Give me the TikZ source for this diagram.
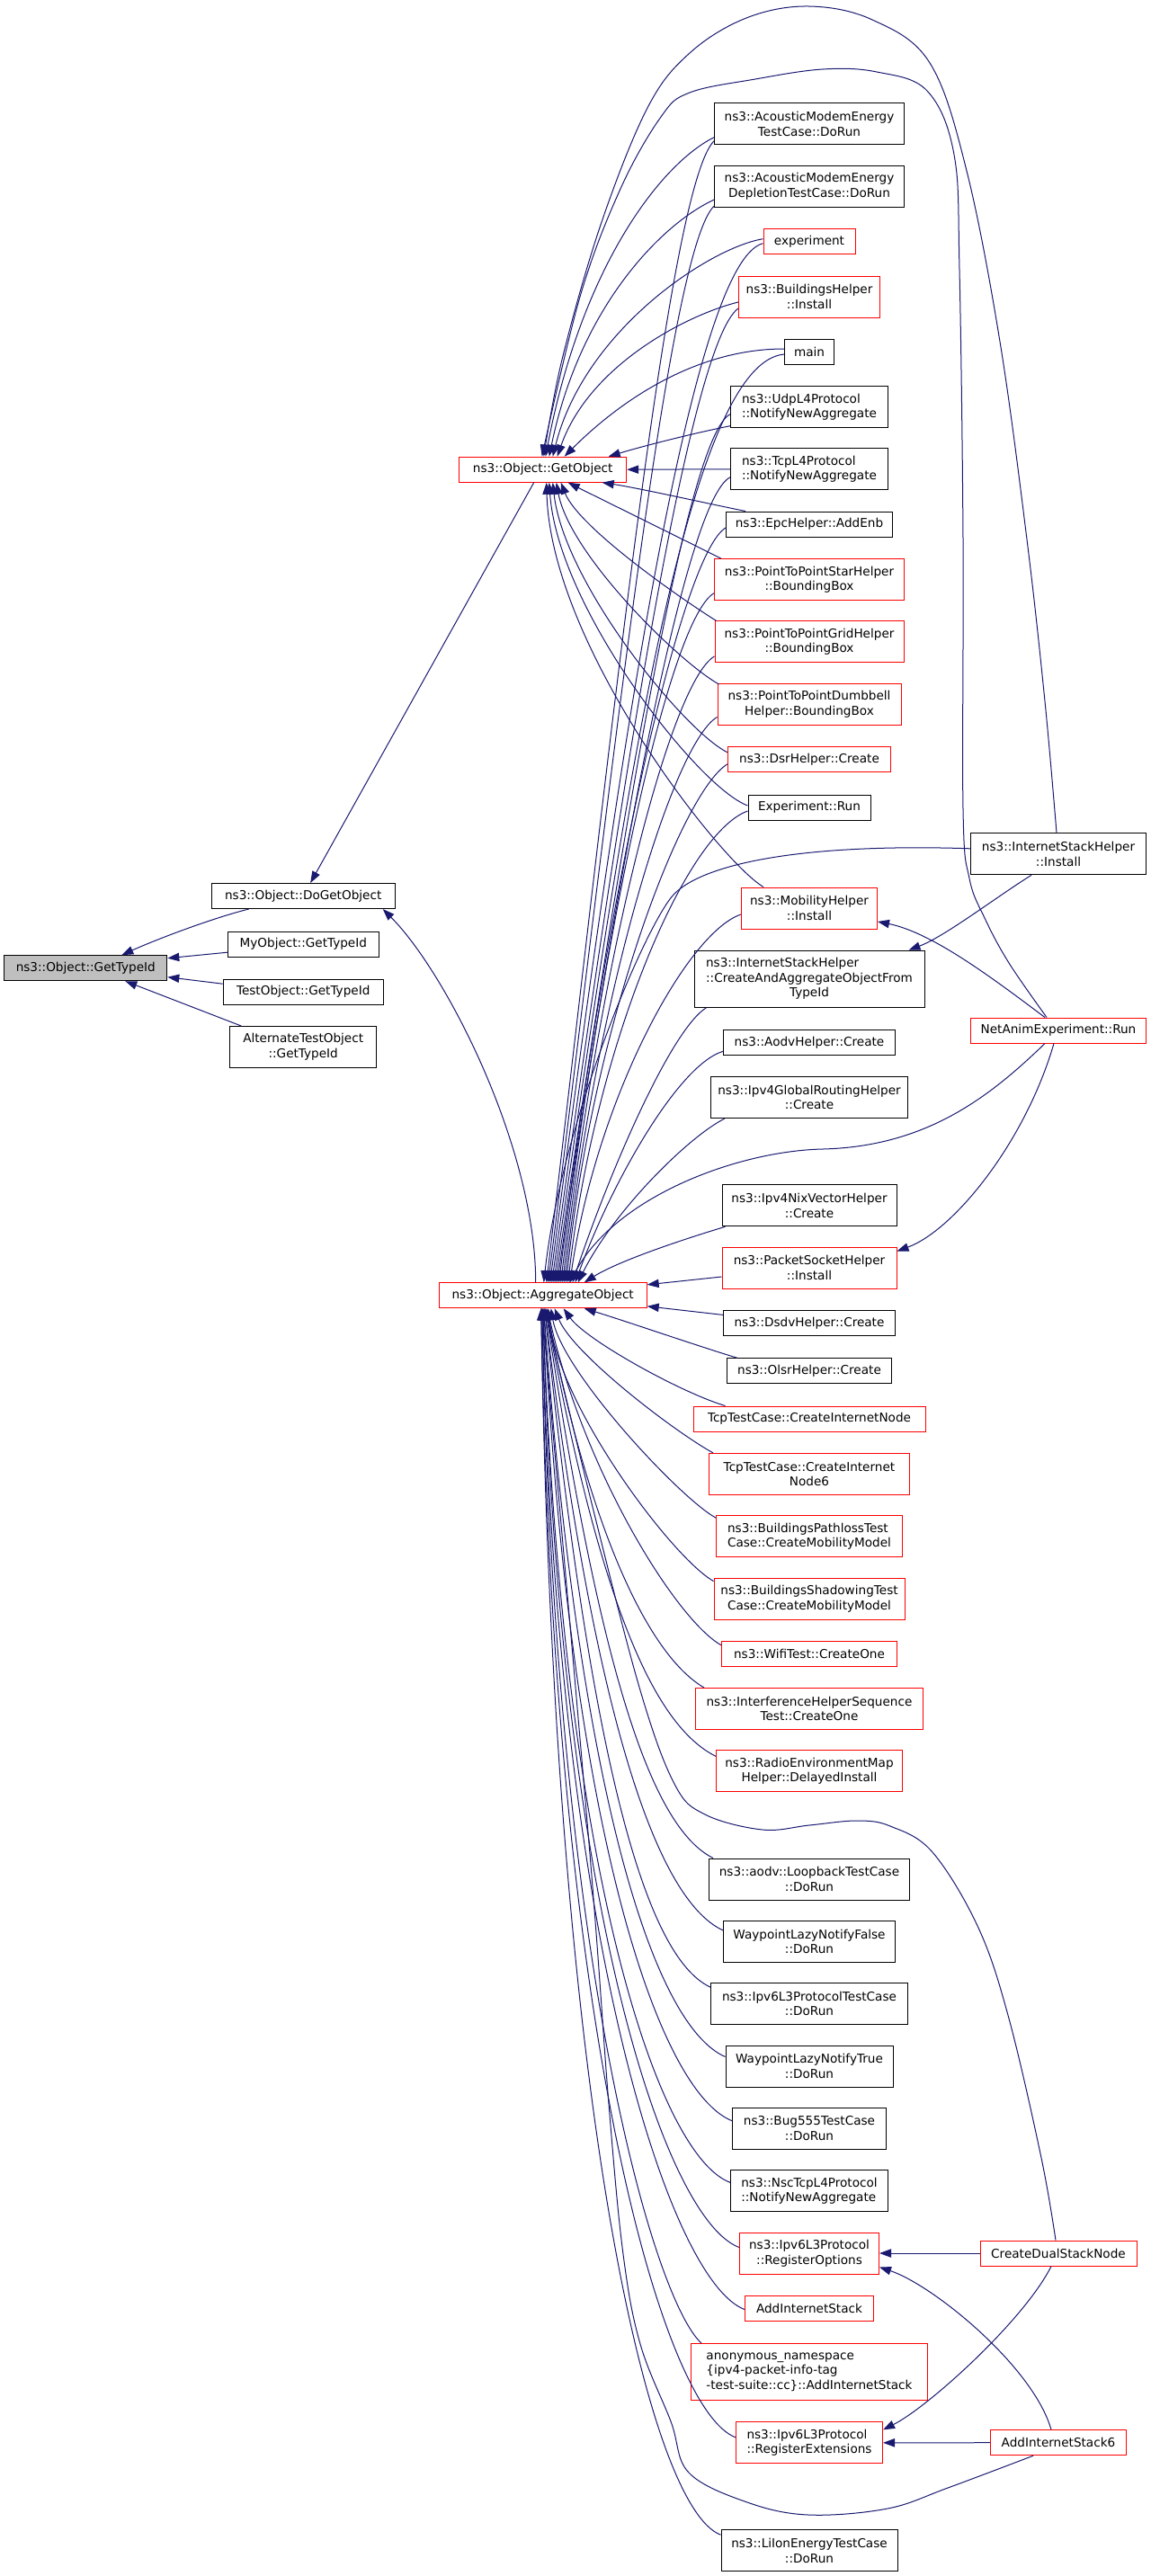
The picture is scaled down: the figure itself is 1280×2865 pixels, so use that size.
\documentclass[tikz,border=0pt]{standalone}
\usepackage{fontspec}
\newfontfamily\dvs{DejaVu Sans}
\usetikzlibrary{arrows.meta,calc}
\definecolor{edgec}{HTML}{191970}
\definecolor{hlgray}{HTML}{BFBFBF}
\begin{document}
\begin{tikzpicture}[x=0.75pt,y=-0.75pt,
 box/.style={draw=black,line width=0.75pt,inner sep=0pt,align=center,fill=white,font={\dvs\fontsize{10.2}{12.4}\selectfont}},
 rbox/.style={box,draw=red},
 bw/.style={minimum width=#1*0.75pt},
 h1/.style={minimum height=21pt},
 h2/.style={minimum height=34.5pt},
 h3/.style={minimum height=47.25pt},
 call/.style={draw=edgec,line width=0.75pt,-{Triangle[length=9.75pt,width=7pt]}}]
\useasboundingbox (0,0) rectangle (1280,2865);

% ---------- nodes ----------
\node[box,bw=181,h1,fill=hlgray] (gti) at (95.3,1076.7) {ns3::Object::GetTypeId};
\node[box,bw=204,h1] (dgo) at (337.2,996.5) {ns3::Object::DoGetObject};
\node[box,bw=168,h1] (myo) at (337.3,1050.2) {MyObject::GetTypeId};
\node[box,bw=178,h1] (tso) at (337.2,1103.2) {TestObject::GetTypeId};
\node[box,bw=163,h2] (ato) at (337.2,1164.5) {AlternateTestObject\\::GetTypeId};
\node[rbox,bw=186,h1] (go) at (603.7,522.2) {ns3::Object::GetObject};
\node[rbox,bw=231,h1] (ao) at (603.7,1440.8) {ns3::Object::AggregateObject};

\node[box,bw=211,h2] (amt) at (900,137.8) {ns3::AcousticModemEnergy\\TestCase::DoRun};
\node[box,bw=211,h2] (amd) at (900,207.2) {ns3::AcousticModemEnergy\\DepletionTestCase::DoRun};
\node[rbox,bw=102,h1] (exp) at (900,268.7) {experiment};
\node[rbox,bw=157,h2] (bhi) at (900,330) {ns3::BuildingsHelper\\::Install};
\node[box,bw=55,h1] (main) at (900,391) {main};
\node[box,bw=175,h2,align=left] (udp) at (900,452.7) {ns3::UdpL4Protocol\\::NotifyNewAggregate};
\node[box,bw=175,h2,align=left] (tcp) at (900,521.8) {ns3::TcpL4Protocol\\::NotifyNewAggregate};
\node[box,bw=185,h1] (epc) at (900,583) {ns3::EpcHelper::AddEnb};
\node[rbox,bw=211,h2] (p2ps) at (900,644.7) {ns3::PointToPointStarHelper\\::BoundingBox};
\node[rbox,bw=210,h2] (p2pg) at (900,713.9) {ns3::PointToPointGridHelper\\::BoundingBox};
\node[rbox,bw=204,h2] (p2pd) at (900,783.5) {ns3::PointToPointDumbbell\\Helper::BoundingBox};
\node[rbox,bw=181,h1] (dsr) at (900,844.8) {ns3::DsrHelper::Create};
\node[box,bw=136,h1] (exr) at (900,898) {Experiment::Run};
\node[rbox,bw=151,h2] (mhi) at (900,1010) {ns3::MobilityHelper\\::Install};
\node[box,bw=256,h3] (caot) at (900,1088.7) {\begin{tabular}{@{}l@{}}ns3::InternetStackHelper\\::CreateAndAggregateObjectFrom\\\multicolumn{1}{@{}c@{}}{TypeId}\end{tabular}};
\node[box,bw=191,h1] (aodvh) at (900,1159.3) {ns3::AodvHelper::Create};
\node[box,bw=219,h2] (ipv4g) at (900,1220.5) {ns3::Ipv4GlobalRoutingHelper\\::Create};
\node[box,bw=194,h2] (nix) at (900,1340.8) {ns3::Ipv4NixVectorHelper\\::Create};
\node[rbox,bw=194,h2] (psh) at (900,1410) {ns3::PacketSocketHelper\\::Install};
\node[box,bw=191,h1] (dsdv) at (900,1471.4) {ns3::DsdvHelper::Create};
\node[box,bw=183,h1] (olsr) at (900,1524.8) {ns3::OlsrHelper::Create};
\node[rbox,bw=258,h1] (tcpn) at (900,1578) {TcpTestCase::CreateInternetNode};
\node[rbox,bw=223,h2] (tcpn6) at (900,1639.4) {TcpTestCase::CreateInternet\\Node6};
\node[rbox,bw=207,h2,align=left] (bpl) at (900,1708.6) {ns3::BuildingsPathlossTest\\Case::CreateMobilityModel};
\node[rbox,bw=212,h2] (bsh) at (900,1778) {ns3::BuildingsShadowingTest\\Case::CreateMobilityModel};
\node[rbox,bw=195,h1] (wifi) at (900,1839.2) {ns3::WifiTest::CreateOne};
\node[rbox,bw=253,h2] (ihs) at (900,1900.5) {ns3::InterferenceHelperSequence\\Test::CreateOne};
\node[rbox,bw=207,h2] (rem) at (900,1969.8) {ns3::RadioEnvironmentMap\\Helper::DelayedInstall};
\node[box,bw=223,h2] (aodvl) at (900,2090) {ns3::aodv::LoopbackTestCase\\::DoRun};
\node[box,bw=191,h2] (wlf) at (900,2159.4) {WaypointLazyNotifyFalse\\::DoRun};
\node[box,bw=219,h2] (ipv6t) at (900,2228.6) {ns3::Ipv6L3ProtocolTestCase\\::DoRun};
\node[box,bw=186,h2] (wlt) at (900,2298) {WaypointLazyNotifyTrue\\::DoRun};
\node[box,bw=171,h2] (bug) at (900,2367.2) {ns3::Bug555TestCase\\::DoRun};
\node[box,bw=175,h2,align=left] (nsc) at (900,2436.8) {ns3::NscTcpL4Protocol\\::NotifyNewAggregate};
\node[rbox,bw=155,h2] (rego) at (900,2506) {ns3::Ipv6L3Protocol\\::RegisterOptions};
\node[rbox,bw=143,h1] (ais) at (900,2567.5) {AddInternetStack};
\node[rbox,bw=263,h3,align=left] (anon) at (900,2638) {anonymous\_namespace\\\{ipv4-packet-info-tag\\-test-suite::cc\}::AddInternetStack};
\node[rbox,bw=163,h2,align=left] (rege) at (900,2716.8) {ns3::Ipv6L3Protocol\\::RegisterExtensions};
\node[box,bw=196,h2] (liion) at (900,2836.7) {ns3::LiIonEnergyTestCase\\::DoRun};

\node[box,bw=195,h2] (ish) at (1177,949.8) {ns3::InternetStackHelper\\::Install};
\node[rbox,bw=195,h1] (nae) at (1177,1146) {NetAnimExperiment::Run};
\node[rbox,bw=174,h1] (cdsn) at (1177,2506) {CreateDualStackNode};
\node[rbox,bw=151,h1] (ais6) at (1177,2716.7) {AddInternetStack6};

% ---------- GetTypeId group ----------
\draw[call] ($(dgo.south west)+(42,0)$) .. controls +(-40,10) and +(40,-18) .. ($(gti.north)+(40,0)$);
\draw[call] ($(myo.west)+(0,9)$) -- ($(gti.east)+(0,-11)$);
\draw[call] ($(tso.west)+(0,-9)$) -- ($(gti.east)+(0,10)$);
\draw[call] ($(ato.north west)+(13,0)$) -- ($(gti.south)+(44,0)$);
\draw[call] ($(go.south)+(-10,0)$) -- ($(dgo.north)+(8,0)$);
\draw[call] ($(ao.north)+(-8,0)$) .. controls +(0,-150) and +(70,70) .. ($(dgo.south east)+(-14,0)$);

% ---------- callers of GetObject ----------
\draw[call] ($(amt.west)+(0,15)$) .. controls +(-60,30) and +(40,-210) .. ($(go.north)+(3,0)$);
\draw[call] ($(amd.west)+(0,15)$) .. controls +(-55,25) and +(35,-170) .. ($(go.north)+(7,0)$);
\draw[call] ($(exp.west)+(0,-3)$) .. controls +(-60,10) and +(35,-140) .. ($(go.north)+(11,0)$);
\draw[call] ($(bhi.west)+(0,6)$) .. controls +(-60,15) and +(35,-100) .. ($(go.north)+(16,0)$);
\draw[call] ($(main.west)+(0,-3)$) .. controls +(-100,0) and +(60,-60) .. ($(go.north)+(24,0)$);
\draw[call] ($(udp.west)+(0,21)$) .. controls +(-40,8) and +(40,-12) .. ($(go.north)+(73,0)$);
\draw[call] (tcp.west) -- (go.east);
\draw[call] ($(epc.north west)+(22,0)$) .. controls +(-40,-8) and +(40,6) .. ($(go.south)+(66,0)$);
\draw[call] ($(p2ps.north west)+(8,0)$) .. controls +(-40,-20) and +(40,20) .. ($(go.south)+(28,0)$);
\draw[call] ($(p2pg.north west)+(2,0)$) .. controls +(-40,-25) and +(20,50) .. ($(go.south)+(20,0)$);
\draw[call] ($(p2pd.north west)+(2,1)$) .. controls +(-45,-25) and +(15,80) .. ($(go.south)+(15,0)$);
\draw[call] ($(dsr.west)+(0,-8)$) .. controls +(-50,-25) and +(12,110) .. ($(go.south)+(11,0)$);
\draw[call] ($(exr.west)+(0,-2)$) .. controls +(-55,-20) and +(10,140) .. ($(go.south)+(7,0)$);
\draw[call] ($(mhi.north west)+(25,0)$) .. controls +(-50,-30) and +(5,180) .. ($(go.south)+(4,0)$);
\draw[call] plot[smooth,tension=0.6] coordinates {($(ish.north)+(-2,0)$) (1162,780) (1142,600) (1112,380) (1075,190) (1034,70) (970,22) (899,7) (830,20) (767,59) (720,120) (668,250) (625,400) ($(go.north)+(1,0)$)};
\draw[call] plot[smooth,tension=0.6] coordinates {($(nae.north)+(-13,0)$) (1122,1071) (1095,1021) (1078,977) (1071,900) (1071,600) (1067,300) (1061,172) (1031,101) (975,80) (915,77) (840,88) (767,103) (735,130) (690,210) (645,330) ($(go.north)+(-1,0)$)};

% ---------- callers of AggregateObject (above) ----------
\draw[call] ($(amt.west)+(0,19)$) .. controls +(-50,50) and +(75,-635) .. ($(ao.north)+(4,0)$);
\draw[call] ($(amd.west)+(0,22)$) .. controls +(-50,50) and +(75,-600) .. ($(ao.north)+(6,0)$);
\draw[call] ($(exp.west)+(0,2)$) .. controls +(-80,20) and +(75,-578) .. ($(ao.north)+(8,0)$);
\draw[call] ($(bhi.west)+(0,13)$) .. controls +(-55,40) and +(75,-540) .. ($(ao.north)+(10,0)$);
\draw[call] ($(main.west)+(0,3)$) .. controls +(-110,10) and +(75,-516) .. ($(ao.north)+(12,0)$);
\draw[call] ($(udp.west)+(0,8)$) .. controls +(-50,25) and +(70,-470) .. ($(ao.north)+(14,0)$);
\draw[call] ($(tcp.west)+(0,9)$) .. controls +(-50,25) and +(65,-450) .. ($(ao.north)+(16,0)$);
\draw[call] ($(epc.west)+(0,4)$) .. controls +(-50,30) and +(50,-420) .. ($(ao.north)+(18,0)$);
\draw[call] ($(p2ps.west)+(0,15)$) .. controls +(-50,30) and +(45,-383) .. ($(ao.north)+(20,0)$);
\draw[call] ($(p2pg.west)+(0,16)$) .. controls +(-50,30) and +(40,-350) .. ($(ao.north)+(22,0)$);
\draw[call] ($(p2pd.west)+(0,14)$) .. controls +(-50,30) and +(35,-314) .. ($(ao.north)+(24,0)$);
\draw[call] ($(dsr.west)+(0,5)$) .. controls +(-50,30) and +(30,-290) .. ($(ao.north)+(26,0)$);
\draw[call] ($(exr.west)+(0,4)$) .. controls +(-70,25) and +(30,-262) .. ($(ao.north)+(28,0)$);
\draw[call] ($(mhi.west)+(0,7)$) .. controls +(-60,20) and +(30,-205) .. ($(ao.north)+(30,0)$);
\draw[call] ($(caot.south west)+(14,0)$) .. controls +(-40,25) and +(40,-120) .. ($(ao.north)+(33,0)$);
\draw[call] ($(aodvh.west)+(0,10)$) .. controls +(-50,15) and +(40,-110) .. ($(ao.north)+(36,0)$);
\draw[call] ($(ipv4g.south west)+(16,0)$) .. controls +(-40,20) and +(40,-80) .. ($(ao.north)+(39,0)$);
\draw[call] ($(nix.south west)+(4,0)$) .. controls +(-40,12) and +(40,-25) .. ($(ao.north)+(46,0)$);
\draw[call] ($(ish.west)+(0,-6)$) .. controls +(-180,-6) and +(35,-35) .. (750,994) .. controls +(-30,30) and +(20,-180) .. ($(ao.north)+(1,0)$);
\draw[call] ($(nae.south)+(-15,0)$) .. controls +(-62,60) and +(115,-3) .. (915,1278) .. controls +(-95,2) and +(50,-95) .. ($(ao.north)+(30,0)$);

% ---------- right column links ----------
\draw[call] ($(nae.south)+(-5,0)$) .. controls +(-32,110) and +(63,-23) .. ($(psh.north east)+(0,5)$);
\draw[call] ($(nae.north)+(-15,0)$) .. controls +(-60,-45) and +(60,12) .. ($(mhi.east)+(0,15)$);
\draw[call] ($(ish.south)+(-30,0)$) .. controls +(-40,25) and +(40,-15) .. ($(caot.north east)+(-18,0)$);

% ---------- callers of AggregateObject (side / below) ----------
\draw[call] ($(psh.west)+(0,10)$) -- ($(ao.east)+(0,-12)$);
\draw[call] ($(dsdv.west)+(0,-9)$) -- ($(ao.east)+(0,12)$);
\draw[call] ($(olsr.north west)+(12,0)$) .. controls +(-40,-12) and +(40,12) .. ($(ao.south)+(46,0)$);
\draw[call] ($(tcpn.north west)+(36,0)$) .. controls +(-50,-15) and +(25,35) .. ($(ao.south)+(23,0)$);
\draw[call] ($(tcpn6.north west)+(5,0)$) .. controls +(-45,-25) and +(20,50) .. ($(ao.south)+(13,0)$);
\draw[call] ($(bpl.north west)+(0,3)$) .. controls +(-40,-22) and +(12,70) .. ($(ao.south)+(9,0)$);
\draw[call] ($(bsh.north west)+(0,4)$) .. controls +(-45,-25) and +(12,110) .. ($(ao.south)+(6,0)$);
\draw[call] ($(wifi.north west)+(0,5)$) .. controls +(-50,-28) and +(40,180) .. ($(ao.south)+(5,0)$);
\draw[call] ($(ihs.north west)+(10,0)$) .. controls +(-60,-35) and +(50,254) .. ($(ao.south)+(4,0)$);
\draw[call] ($(rem.north west)+(0,7)$) .. controls +(-70,-35) and +(60,324) .. ($(ao.south)+(3,0)$);
\draw[call] ($(aodvl.north west)+(5,0)$) .. controls +(-70,-35) and +(60,398) .. ($(ao.south)+(3,0)$);
\draw[call] ($(wlf.north west)+(0,11)$) .. controls +(-75,-35) and +(55,450) .. ($(ao.south)+(2,0)$);
\draw[call] ($(ipv6t.north west)+(0,5)$) .. controls +(-75,-35) and +(50,490) .. ($(ao.south)+(2,0)$);
\draw[call] ($(wlt.north west)+(0,13)$) .. controls +(-80,-35) and +(40,540) .. ($(ao.south)+(1,0)$);
\draw[call] ($(bug.north west)+(0,15)$) .. controls +(-80,-32) and +(30,590) .. ($(ao.south)+(1,0)$);
\draw[call] ($(nsc.north west)+(0,14)$) .. controls +(-80,-30) and +(22,630) .. ($(ao.south)+(0,0)$);
\draw[call] ($(rego.north west)+(0,17)$) .. controls +(-80,-30) and +(20,680) .. ($(ao.south)+(0,0)$);
\draw[call] ($(ais.west)+(0,1)$) .. controls +(-80,-30) and +(18,720) .. ($(ao.south)+(-1,0)$);
\draw[call] ($(anon.north west)+(12,0)$) .. controls +(-50,-45) and +(16,750) .. ($(ao.south)+(-1,0)$);
\draw[call] ($(rege.west)+(0,-6)$) .. controls +(-80,-30) and +(15,815) .. ($(ao.south)+(-2,0)$);
\draw[call] ($(liion.north west)+(0,6)$) .. controls +(-80,-30) and +(15,890) .. ($(ao.south)+(-2,0)$);
\draw[call] plot[smooth,tension=0.6] coordinates {($(cdsn.north)+(-3,0)$) (1158,2400) (1122,2245) (1088,2144) (1037,2060) (990,2031) (953,2025) (900,2030) (848,2035) (784,2018) (750,1984) (712,1880) (660,1680) ($(ao.south)+(2,0)$)};
\draw[call] plot[smooth,tension=0.6] coordinates {($(ais6.south)+(-28,0)$) (1054,2767) (987,2790) (899,2797) (831,2783) (766,2750) (746,2693) (712,2607) (693,2507) (677,2340) (655,2050) ($(ao.south)+(-1,0)$)};

% ---------- Ipv6L3Protocol registrations ----------
\draw[call] (cdsn.west) -- (rego.east);
\draw[call] (ais6.west) -- (rege.east);
\draw[call] ($(cdsn.south)+(-8,0)$) .. controls +(-30,60) and +(50,-25) .. ($(rege.north east)+(0,9)$);
\draw[call] ($(ais6.north)+(-8,0)$) .. controls +(-20,-70) and +(60,20) .. ($(rego.south east)+(0,-8)$);
\end{tikzpicture}
\end{document}
